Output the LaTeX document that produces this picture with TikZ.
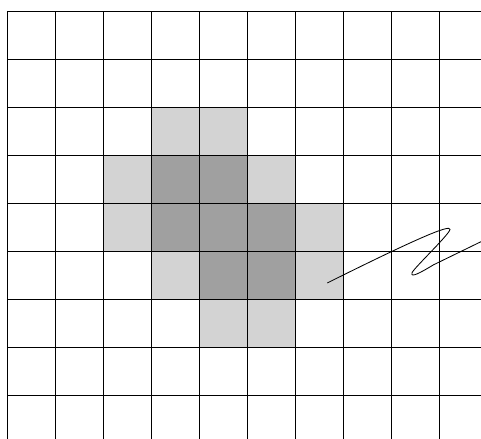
\documentclass[tikz,border=0pt]{standalone}
\usepackage{tikz}
\usetikzlibrary{calc}
\definecolor{hellgrau}{HTML}{D3D3D3}
\definecolor{dunkelgrau}{HTML}{A0A0A0}

\begin{document}
\begin{tikzpicture}[
        x=1cm, y=1cm,
        line width=0.6pt,
      ]
      \useasboundingbox (-0.152,-8.91) rectangle (9.869,0.235);
      \clip (-0.152,-8.91) rectangle (9.869,0.235);

      % Zellen (hell)
      \foreach \cx/\cy in {3/2, 4/2, 2/3, 5/3, 2/4, 6/4, 3/5, 6/5, 4/6, 5/6} {
        \fill[hellgrau] (\cx, -\cy) rectangle (\cx+1, -\cy-1);
      }
      % Zellen (dunkel)
      \foreach \cx/\cy in {3/3, 4/3, 3/4, 4/4, 5/4, 4/5, 5/5} {
        \fill[dunkelgrau] (\cx, -\cy) rectangle (\cx+1, -\cy-1);
      }

      % Gitter
      \draw[black] (0,-9.5) grid (10.5,0);

      % Kurve
      \draw[line width=0.5pt]
        (6.667,-5.66) .. controls (8.457,-4.768) and (9.25,-4.42) .. (9.223,-4.546)
        .. controls (9.2,-4.66) and (8.46,-5.36) .. (8.431,-5.45)
        .. controls (8.40,-5.56) and (8.6,-5.45) .. (8.88,-5.282)
        -- (9.869,-4.8);
    \end{tikzpicture}
\end{document}
